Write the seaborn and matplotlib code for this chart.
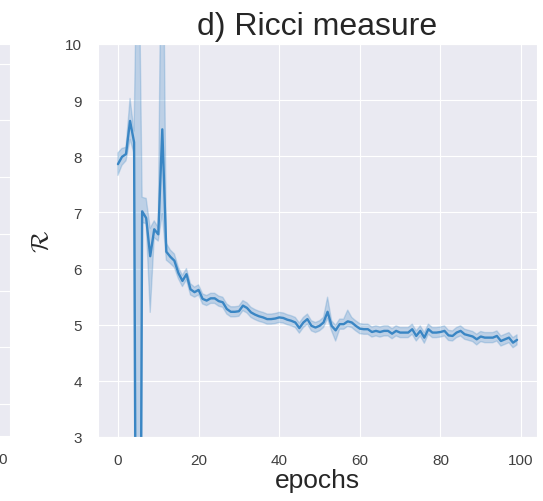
import numpy as np
import pandas as pd
import matplotlib
matplotlib.use("Agg")
import matplotlib.pyplot as plt
import seaborn as sns

# ---- data ----
epochs = list(range(100))
ricci_mean = [
    7.86, 7.99, 8.04, 8.63, 8.25, -10.0, 7.02, 6.90, 6.22, 6.70,
    6.61, 8.48, 6.30, 6.21, 6.14, 5.92, 5.78, 5.90, 5.63, 5.58,
    5.62, 5.46, 5.43, 5.47, 5.47, 5.42, 5.40, 5.28, 5.23, 5.23,
    5.24, 5.34, 5.30, 5.22, 5.18, 5.15, 5.13, 5.10, 5.10, 5.11,
    5.13, 5.12, 5.09, 5.07, 5.04, 4.94, 5.04, 5.10, 4.98, 4.95,
    4.98, 5.04, 5.23, 4.98, 4.90, 5.01, 5.01, 5.06, 5.04, 4.98,
    4.93, 4.92, 4.92, 4.87, 4.89, 4.87, 4.89, 4.89, 4.84, 4.89,
    4.86, 4.86, 4.86, 4.92, 4.80, 4.89, 4.77, 4.92, 4.86, 4.86,
    4.87, 4.89, 4.81, 4.80, 4.86, 4.89, 4.83, 4.81, 4.79, 4.74,
    4.79, 4.77, 4.77, 4.77, 4.80, 4.71, 4.74, 4.77, 4.68, 4.73,
]
# distance from the mean line to the lower / upper edge of the band
band_down = [
    0.20, 0.15, 0.12, 0.33, 0.20, 25.0, 0.20, 0.10, 1.00, 0.15,
    0.12, 1.50, 0.15, 0.12, 0.12, 0.10, 0.10, 0.10, 0.10, 0.09,
    0.09, 0.09, 0.09, 0.09, 0.09, 0.09, 0.09, 0.09, 0.09, 0.09,
    0.09, 0.09, 0.09, 0.09, 0.09, 0.09, 0.09, 0.09, 0.09, 0.09,
    0.09, 0.09, 0.09, 0.09, 0.09, 0.09, 0.09, 0.09, 0.09, 0.09,
    0.09, 0.09, 0.12, 0.09, 0.19, 0.09, 0.09, 0.09, 0.09, 0.09,
    0.09, 0.09, 0.09, 0.09, 0.09, 0.09, 0.09, 0.09, 0.09, 0.09,
    0.09, 0.09, 0.09, 0.09, 0.09, 0.09, 0.10, 0.09, 0.09, 0.09,
    0.09, 0.09, 0.09, 0.09, 0.09, 0.09, 0.09, 0.09, 0.09, 0.10,
    0.09, 0.09, 0.09, 0.09, 0.09, 0.09, 0.09, 0.09, 0.09, 0.09,
]
band_up = [
    0.20, 0.15, 0.12, 0.40, 0.20, 23.0, 0.25, 0.35, 0.50, 0.15,
    0.12, 5.50, 0.15, 0.12, 0.12, 0.10, 0.10, 0.10, 0.10, 0.09,
    0.09, 0.09, 0.09, 0.09, 0.09, 0.09, 0.09, 0.09, 0.09, 0.09,
    0.09, 0.09, 0.09, 0.09, 0.09, 0.09, 0.09, 0.09, 0.09, 0.09,
    0.09, 0.09, 0.09, 0.09, 0.09, 0.09, 0.09, 0.09, 0.09, 0.09,
    0.09, 0.09, 0.26, 0.09, 0.09, 0.09, 0.09, 0.20, 0.09, 0.09,
    0.09, 0.09, 0.09, 0.09, 0.09, 0.09, 0.09, 0.09, 0.09, 0.09,
    0.09, 0.09, 0.09, 0.09, 0.09, 0.09, 0.09, 0.09, 0.09, 0.09,
    0.09, 0.09, 0.09, 0.09, 0.09, 0.09, 0.09, 0.09, 0.09, 0.09,
    0.09, 0.09, 0.09, 0.09, 0.09, 0.09, 0.09, 0.09, 0.09, 0.09,
]
x_ticks = [0, 20, 40, 60, 80, 100]
y_ticks = [3, 4, 5, 6, 7, 8, 9, 10]

# ---- long-form table: low / mean / high observation per epoch ----
m = np.array(ricci_mean)
lo = m - np.array(band_down)
hi = m + np.array(band_up)
df = pd.DataFrame({
    "epoch": np.concatenate([epochs, epochs, epochs]),
    "R": np.concatenate([lo, m, hi]),
})

sns.set_style("darkgrid")
plt.rcParams["font.family"] = ["Liberation Sans", "DejaVu Sans"]
plt.rcParams["mathtext.fontset"] = "cm"

W, H = 543, 502
fig = plt.figure(figsize=(W / 100, H / 100), dpi=100)

# partial neighbouring panel at the far left
ax0 = fig.add_axes([-0.3, (502 - 437) / H, 0.3 + 10 / W, (437 - 45) / H])
ax0.set_xlim(0, 1)
ax0.set_ylim(0, 1)
ax0.set_yticks([0.082, 0.227, 0.370, 0.515, 0.661, 0.806, 0.949])
ax0.set_yticklabels([])
ax0.set_xticks([0.919])
ax0.set_xticklabels(["100"], fontsize=11, color="#404040")
ax0.tick_params(axis="x", pad=8)
ax0.xaxis.grid(False)

ax = fig.add_axes([98 / W, (502 - 438) / H, (537 - 98) / W, (438 - 45) / H])
sns.lineplot(data=df, x="epoch", y="R", estimator="median",
             errorbar=("pi", 100), color="#3a86c4", linewidth=1.7,
             err_kws={"alpha": 0.25}, ax=ax)
ax.set_ylim(3, 10)
ax.set_xticks(x_ticks)
ax.set_yticks(y_ticks)
ax.tick_params(labelsize=11, labelcolor="#404040", pad=8)
ax.set_title("d) Ricci measure", fontsize=23, color="#262626", pad=7)
ax.set_xlabel("epochs", fontsize=19, color="#262626", labelpad=1)
ax.set_ylabel(r"$\mathcal{R}$", fontsize=18, color="#262626", labelpad=9)

fig.savefig("out.png", dpi=100)
